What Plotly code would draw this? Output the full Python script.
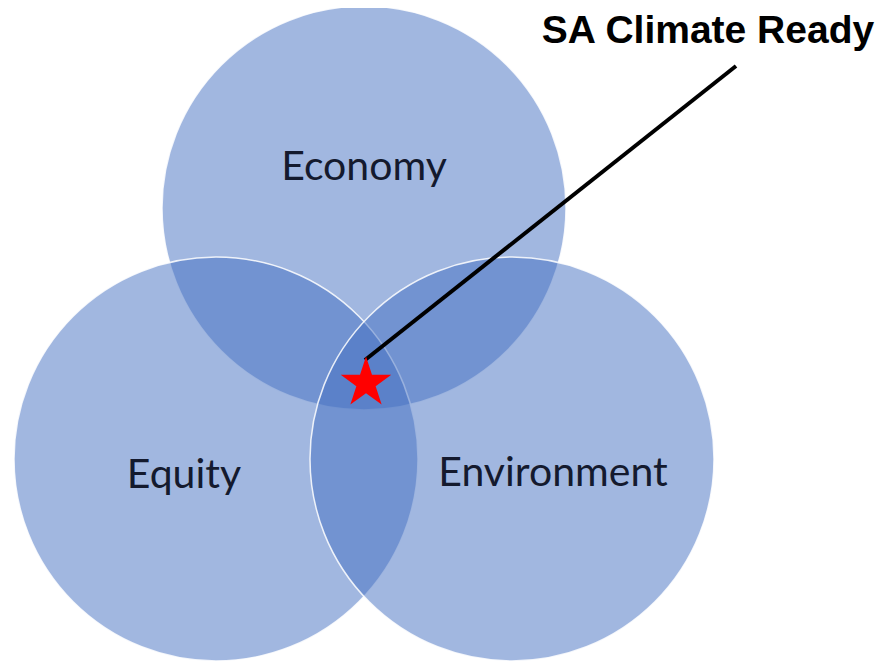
import plotly.graph_objects as go

# Venn sets (name, centre x, centre y in canvas units), common radius
set_names = ["Economy", "Equity", "Environment"]
center_x = [364, 216, 512]
center_y = [208, 459, 459]
radius = 202
label_x = [364, 184, 553]
label_y = [170, 478, 476]

# Highlighted point
point_name = "SA Climate Ready"
point_x = [366]
point_y = [383]
callout_x = [365, 736]
callout_y = [360, 66]
callout_label_x = 708
callout_label_y = 33

W, H = 891, 663
OFF = 8  # page body margin compensation
fig = go.Figure()

shapes = []
for cx, cy in zip(center_x, center_y):
    shapes.append(dict(
        type="circle", xref="x", yref="y",
        x0=cx - radius, x1=cx + radius, y0=cy - radius, y1=cy + radius,
        fillcolor="rgba(67,111,193,0.5)",
        line=dict(color="rgba(255,255,255,0.85)", width=1.5),
        layer="below",
    ))

fig.add_trace(go.Scatter(
    x=callout_x, y=callout_y, mode="lines",
    line=dict(color="black", width=4), hoverinfo="skip", showlegend=False,
))
fig.add_trace(go.Scatter(
    x=point_x, y=point_y, mode="markers",
    marker=dict(symbol="star", size=38, color="#ff0000", line=dict(width=0)),
    hoverinfo="skip", showlegend=False,
))
fig.add_trace(go.Scatter(
    x=label_x, y=label_y, mode="text", text=set_names,
    textfont=dict(family="Lato, Carlito, 'Noto Sans', sans-serif", size=41, color="#141a2e"),
    hoverinfo="skip", showlegend=False,
))
fig.add_trace(go.Scatter(
    x=[callout_label_x], y=[callout_label_y], mode="text", text=[point_name],
    textfont=dict(family="'Liberation Sans', Arial, sans-serif", size=39, color="#000000"),
    texttemplate="<b>%{text}</b>", cliponaxis=False,
    hoverinfo="skip", showlegend=False,
))

fig.update_layout(
    width=W - OFF, height=H - OFF,
    margin=dict(l=0, r=0, t=0, b=0),
    paper_bgcolor="white", plot_bgcolor="white",
    shapes=shapes,
    xaxis=dict(range=[OFF, W], visible=False, fixedrange=True),
    yaxis=dict(range=[H, OFF], visible=False, fixedrange=True),
    showlegend=False,
)

fig.write_html("out.html")
